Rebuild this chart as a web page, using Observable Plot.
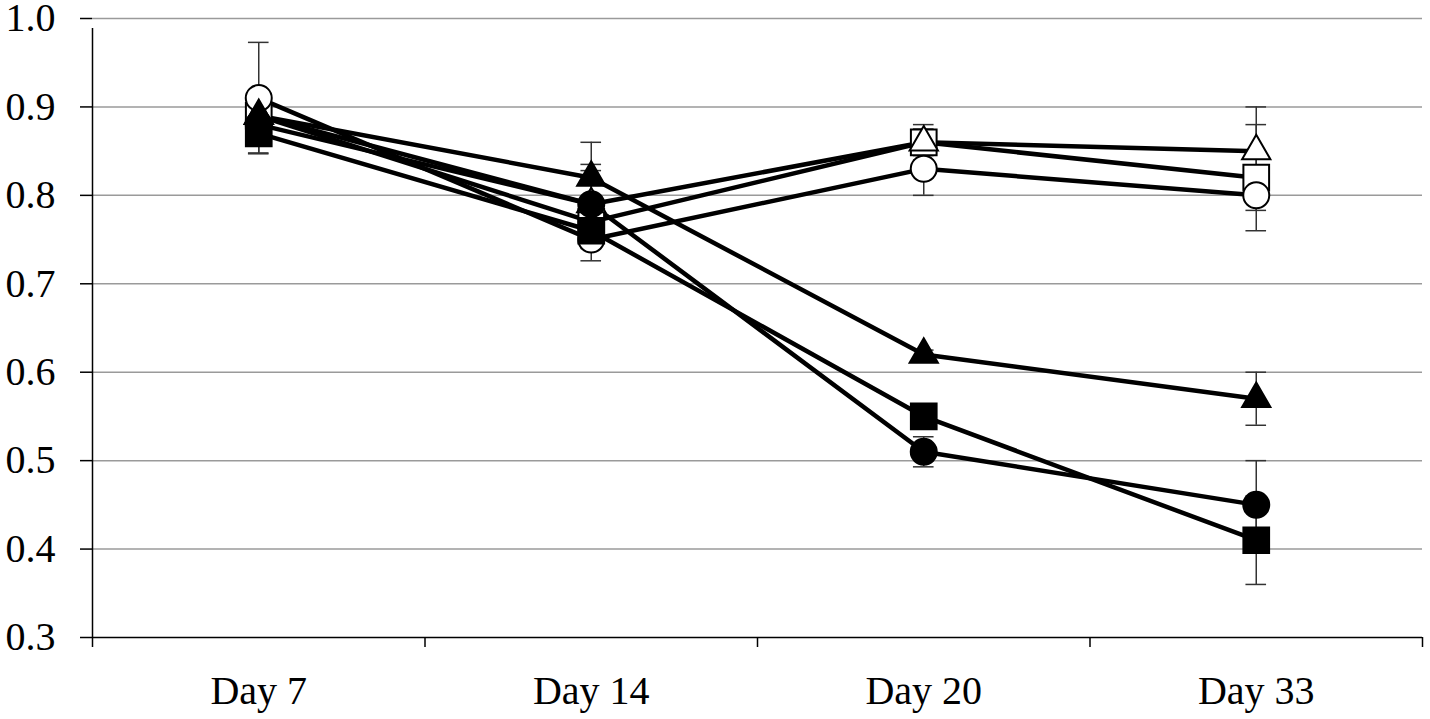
<!DOCTYPE html>
<html>
<head>
<meta charset="utf-8">
<script src="https://cdn.jsdelivr.net/npm/d3@7"></script>
<script src="https://cdn.jsdelivr.net/npm/@observablehq/plot@0.6"></script>
<style>
  html, body { margin: 0; padding: 0; background: #fff; }
  #chart svg { display: block; }
</style>
</head>
<body>
<div id="chart"></div>
<script>
// ---- Data ----
const days = ["Day 7", "Day 14", "Day 20", "Day 33"];
const yTicks = [0.3, 0.4, 0.5, 0.6, 0.7, 0.8, 0.9, 1.0];

const openSquare      = [0.89, 0.77, 0.86, 0.82];
const openSquareErr   = [0.015, 0.02, 0.02, 0.06];
const openTriangle    = [0.89, 0.79, 0.86, 0.85];
const openTriangleErr = [0.015, 0.038, 0.015, 0.05];
const openCircle      = [0.91, 0.75, 0.83, 0.80];
const openCircleErr   = [0.063, 0.024, 0.03, 0.017];
const filledSquare    = [0.87, 0.76, 0.55, 0.41];
const filledSquareErr = [0.022, 0.02, 0.01, 0.05];
const filledCircle    = [0.88, 0.79, 0.51, 0.45];
const filledCircleErr = [0.015, 0.045, 0.017, 0.05];
const filledTriangle    = [0.89, 0.82, 0.62, 0.57];
const filledTriangleErr = [0.015, 0.04, 0.005, 0.03];

// ---- Series styling (drawing order) ----
const series = [
  {name: "openSquare",     values: openSquare,     err: openSquareErr,     symbol: "square",   fill: "white", r: 14.5},
  {name: "openTriangle",   values: openTriangle,   err: openTriangleErr,   symbol: "triangle", fill: "white", r: 10.5},
  {name: "openCircle",     values: openCircle,     err: openCircleErr,     symbol: "circle",   fill: "white", r: 13},
  {name: "filledSquare",   values: filledSquare,   err: filledSquareErr,   symbol: "square",   fill: "black", r: 14.5},
  {name: "filledCircle",   values: filledCircle,   err: filledCircleErr,   symbol: "circle",   fill: "black", r: 13},
  {name: "filledTriangle", values: filledTriangle, err: filledTriangleErr, symbol: "triangle", fill: "black", r: 10.5}
];

const rows = series.flatMap(s => s.values.map((v, i) => ({
  series: s.name, i, day: days[i], value: v, err: s.err[i]
})));

const font = "'Liberation Serif', 'Times New Roman', serif";
const capHalf = 0.031;

const marks = [
  // gridlines
  Plot.ruleY(yTicks.filter(t => t > 0.3), {stroke: "#9a9a9a", strokeWidth: 1.5}),
  // y axis
  Plot.axisY({ticks: yTicks, tickSize: 12, tickPadding: 25, tickFormat: d3.format(".1f"), label: null,
              fontSize: 40, stroke: "black", strokeWidth: 1.5, fill: "black"}),
  Plot.ruleX([-0.5], {y1: 0.3, y2: 1.0, stroke: "black", strokeWidth: 1.5, insetBottom: -10}),
  // x axis
  Plot.ruleY([0.3], {stroke: "black", strokeWidth: 1.5}),
  Plot.axisX({ticks: [-0.5, 0.5, 1.5, 2.5, 3.5], tickSize: 10, tickFormat: () => "", label: null,
              stroke: "black", strokeWidth: 1.5}),
  Plot.axisX({ticks: [0, 1, 2, 3], tickSize: 0, tickPadding: 38, tickFormat: i => days[i], label: null,
              fontSize: 40, fill: "black"}),
  // error bars
  Plot.ruleX(rows, {x: "i", y1: d => d.value - d.err, y2: d => d.value + d.err, stroke: "#333", strokeWidth: 1.5}),
  Plot.ruleY(rows, {y: d => d.value + d.err, x1: d => d.i - capHalf, x2: d => d.i + capHalf, stroke: "#333", strokeWidth: 1.5}),
  Plot.ruleY(rows, {y: d => d.value - d.err, x1: d => d.i - capHalf, x2: d => d.i + capHalf, stroke: "#333", strokeWidth: 1.5}),
  // lines
  Plot.line(rows, {x: "i", y: "value", z: "series", stroke: "black", strokeWidth: 4.5})
];

for (const s of series) {
  marks.push(Plot.dot(rows.filter(d => d.series === s.name), {
    x: "i", y: "value", symbol: s.symbol, r: s.r, fill: s.fill, stroke: "black", strokeWidth: 2
  }));
}

const chart = Plot.plot({
  width: 1430,
  height: 719,
  marginLeft: 92,
  marginRight: 8,
  marginTop: 18,
  marginBottom: 82,
  style: {fontFamily: font, color: "black", background: "white", overflow: "visible"},
  x: {domain: [-0.5, 3.5], axis: null},
  y: {domain: [0.3, 1.0], axis: null},
  marks
});

document.getElementById("chart").appendChild(chart);
</script>
</body>
</html>
